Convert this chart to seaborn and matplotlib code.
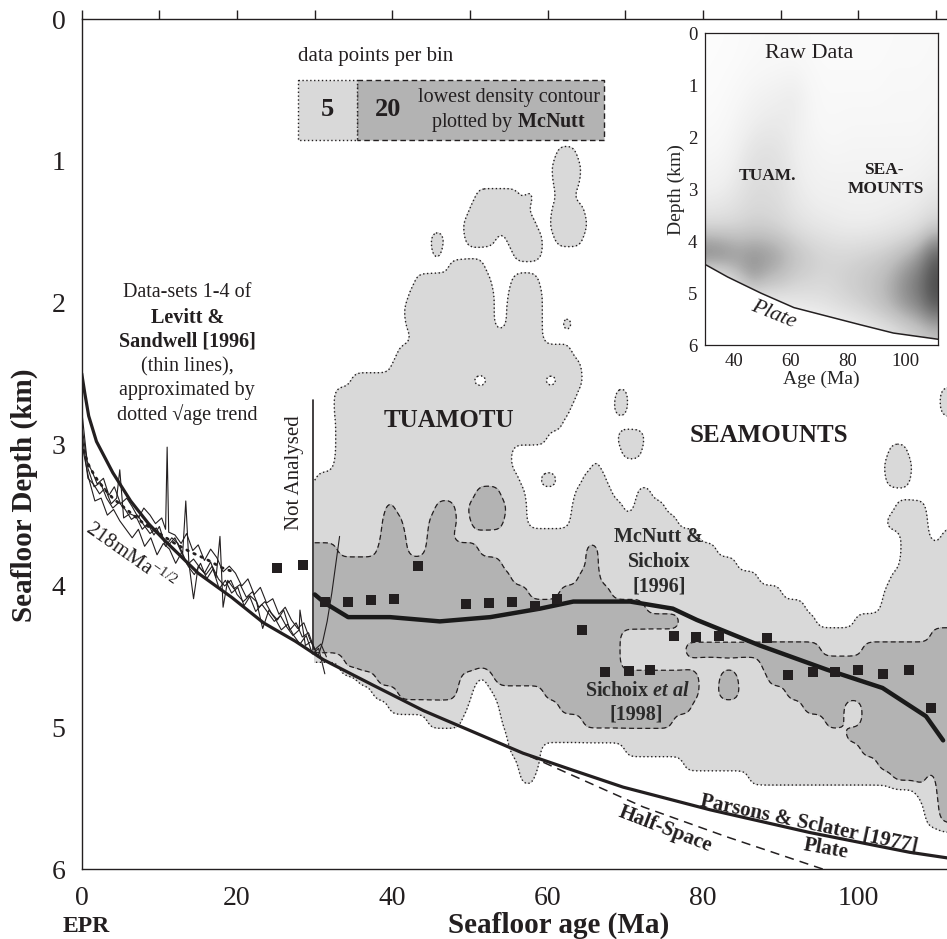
import numpy as np
import pandas as pd
import seaborn as sns
import matplotlib.pyplot as plt
from matplotlib.patches import Rectangle

OUT_FIG = "out.png"

# ---------------- values (age in Ma, depth in km) ----------------
# Parsons & Sclater [1977] plate curve
plate_age = [0, 0.4, 0.9, 1.9, 4.0, 6.3, 8.6, 10.7, 15.0, 19.3, 23.4, 27.5, 31.1, 37.5,
             44.0, 50.4, 56.8, 63.2, 69.7, 80.9, 93.7, 106.6, 111.5]
plate_depth = [2.50, 2.64, 2.80, 2.98, 3.20, 3.40, 3.56, 3.68, 3.91, 4.08, 4.26, 4.39, 4.52, 4.70,
               4.88, 5.03, 5.18, 5.30, 5.42, 5.58, 5.74, 5.88, 5.92]

# half-space branch (dashed)
halfspace_age = [50.4, 56.8, 62.9, 72.3, 83.0, 95.5]
halfspace_depth = [5.03, 5.18, 5.33, 5.56, 5.77, 6.00]

# McNutt & Sichoix [1996] thick curve
mcnutt_age = [30.0, 31.3, 34.3, 39.7, 46.1, 52.6, 59.0, 63.3, 70.6, 76.1, 79.2, 87.3,
              95.9, 103.1, 108.7, 110.9]
mcnutt_depth = [4.06, 4.12, 4.22, 4.22, 4.25, 4.22, 4.16, 4.11, 4.11, 4.16, 4.24, 4.42,
                4.59, 4.72, 4.92, 5.09]

# Sichoix et al [1998] squares
sichoix_age = [25.2, 28.5, 31.3, 34.3, 37.2, 40.2, 43.3, 49.5, 52.5, 55.4, 58.4, 61.2, 64.4,
               67.4, 70.4, 73.1, 76.3, 79.1, 82.1, 88.2, 90.9, 94.2, 97.0, 99.9, 103.2, 106.5, 109.3]
sichoix_depth = [3.87, 3.85, 4.11, 4.11, 4.10, 4.09, 3.86, 4.13, 4.12, 4.11, 4.14, 4.09, 4.31,
                 4.61, 4.60, 4.59, 4.35, 4.36, 4.35, 4.37, 4.63, 4.61, 4.61, 4.59, 4.62, 4.59, 4.86]

# Levitt & Sandwell [1996] data-sets 1-4 (thin lines)
ls1_age = [0.1, 0.7, 1.4, 2.0, 2.8, 3.5, 4.2, 5.0, 5.8, 6.5, 7.3, 8.0, 8.8, 9.5, 10.3, 10.8, 11.0,
           11.2, 12.0, 12.8, 13.5, 14.3, 15.0, 15.8, 16.6, 17.4, 18.2, 19.0, 19.8, 20.6, 21.4,
           22.2, 23.0, 23.8, 24.6, 25.4, 26.2, 27.0, 27.8, 28.6, 29.4, 30.0]
ls1_depth = [2.81, 3.12, 3.20, 3.28, 3.24, 3.36, 3.30, 3.42, 3.38, 3.44, 3.52, 3.45, 3.50, 3.56,
             3.52, 3.60, 3.02, 3.62, 3.64, 3.70, 3.63, 3.75, 3.71, 3.82, 3.74, 3.80, 3.90, 3.86,
             3.91, 4.00, 3.95, 4.06, 4.01, 4.12, 4.09, 4.20, 4.15, 4.24, 4.30, 4.26, 4.38, 4.45]
ls2_age = [0.1, 0.8, 1.5, 2.3, 3.0, 3.8, 4.5, 4.9, 5.4, 6.2, 7.0, 7.8, 8.5, 9.3, 10.0, 10.8,
           11.6, 12.4, 13.0, 13.4, 13.8, 14.4, 15.0, 15.8, 16.6, 17.3, 17.8, 18.2, 18.8, 19.6,
           20.4, 21.2, 22.0, 22.8, 23.6, 24.4, 25.2, 26.0, 26.8, 27.6, 28.4, 29.2, 30.0, 30.8, 31.5]
ls2_depth = [2.95, 3.24, 3.28, 3.35, 3.31, 3.42, 3.38, 3.18, 3.52, 3.49, 3.51, 3.60, 3.56, 3.64,
             3.58, 3.72, 3.66, 3.70, 3.77, 3.40, 3.84, 4.09, 3.86, 3.91, 3.83, 3.94, 3.65, 4.15,
             3.96, 4.02, 3.99, 4.08, 4.04, 4.15, 4.11, 4.19, 4.24, 4.17, 4.31, 4.26, 4.36, 4.33,
             4.45, 4.41, 4.50]
ls3_age = [0.2, 0.9, 1.7, 2.5, 3.3, 4.1, 4.9, 5.7, 6.5, 7.3, 8.1, 8.9, 9.7, 10.5, 11.3, 12.1,
           12.9, 13.7, 14.5, 15.3, 16.1, 16.9, 17.7, 18.5, 19.3, 20.1, 20.9, 21.7, 22.5, 23.3,
           24.1, 24.9, 25.7, 26.5, 27.3, 28.1, 28.9, 29.7, 30.5, 31.3]
ls3_depth = [3.05, 3.24, 3.40, 3.38, 3.50, 3.46, 3.54, 3.60, 3.66, 3.60, 3.72, 3.66, 3.78, 3.70,
             3.74, 3.84, 3.76, 3.86, 3.92, 3.84, 3.95, 3.88, 4.02, 3.96, 4.05, 4.01, 4.14, 4.07,
             4.11, 4.30, 4.17, 4.23, 4.31, 4.27, 4.35, 4.41, 4.35, 4.48, 4.44, 4.62]
ls4_age = [0.1, 0.8, 1.6, 2.4, 3.2, 4.0, 4.8, 5.6, 6.4, 7.2, 8.0, 8.8, 9.6, 10.4, 11.2, 12.0,
           12.8, 13.6, 14.4, 15.2, 16.0, 16.8, 17.6, 18.4, 19.2, 20.0, 20.8, 21.6, 22.4, 23.2,
           24.0, 24.8, 25.6, 26.4, 27.2, 28.0, 28.1, 28.8, 29.6, 30.4, 31.0, 31.6, 32.2, 32.7, 33.2]
ls4_depth = [2.90, 3.17, 3.30, 3.27, 3.38, 3.45, 3.41, 3.46, 3.53, 3.50, 3.57, 3.63, 3.59, 3.67,
             3.71, 3.66, 3.76, 3.85, 3.81, 3.87, 3.92, 3.86, 3.95, 4.00, 3.96, 4.06, 4.11, 4.07,
             4.18, 4.13, 4.19, 4.25, 4.21, 4.29, 4.35, 4.31, 4.17, 4.42, 4.39, 4.50, 4.40, 4.25,
             4.05, 3.85, 3.65]

# dotted sqrt(age) trend
trend_age = [0.2, 1, 2, 3, 4, 6, 8, 10, 12, 14, 16, 18, 19.5]
trend_depth = [3.04, 3.16, 3.25, 3.32, 3.38, 3.47, 3.56, 3.63, 3.70, 3.76, 3.81, 3.87, 3.90]

# binned data density: age spans per 0.1 km depth band with >=5 points (light) / >=20 (dark)
light_runs = {
    0.95: [(61.2, 63.8)],
    1.05: [(60.6, 64.3)],
    1.15: [(60.7, 64.1)],
    1.25: [(50.8, 56.2), (57.2, 58.3), (61.2, 63.3)],
    1.35: [(50.0, 57.5), (60.5, 64.6)],
    1.45: [(49.2, 58.5), (60.3, 65.0)],
    1.55: [(44.9, 46.7), (49.3, 53.2), (54.8, 59.4), (61.0, 64.5)],
    1.65: [(45.2, 46.4), (55.5, 59.2)],
    1.75: [(47.3, 51.8)],
    1.85: [(43.0, 52.6), (55.4, 58.8)],
    1.95: [(42.2, 53.0), (54.9, 59.3)],
    2.05: [(41.6, 53.0), (54.8, 59.4)],
    2.15: [(41.8, 53.0), (54.8, 59.4), (61.8, 63.2)],
    2.25: [(42.6, 59.3)],
    2.35: [(40.8, 63.0)],
    2.45: [(40.0, 64.3)],
    2.55: [(34.8, 50.0), (52.6, 59.4), (61.6, 64.5)],
    2.65: [(32.6, 63.7), (68.7, 70.2), (110.6, 112)],
    2.75: [(32.5, 62.9), (68.6, 70.3), (110.6, 112)],
    2.85: [(32.7, 61.8)],
    2.95: [(32.8, 59.8), (69.0, 72.4)],
    3.05: [(32.7, 55.3), (69.5, 72.0), (104.0, 106.3)],
    3.15: [(32.6, 55.2), (65.7, 66.8), (103.4, 106.9)],
    3.25: [(30.2, 56.2), (59.0, 61.2), (64.5, 67.5), (103.6, 106.7)],
    3.35: [(30, 57.0), (63.6, 68.3), (71.6, 73.2)],
    3.45: [(30, 57.2), (63.2, 69.6), (71.2, 75.0), (104.8, 108.8)],
    3.55: [(30, 57.3), (63.0, 76.7), (103.6, 108.9)],
    3.65: [(30, 79.2), (105.5, 109.0), (110.7, 112)],
    3.75: [(30, 81.8), (105.6, 112)],
    3.85: [(30, 84.2), (105.4, 112)],
    3.95: [(30, 87.0), (104.2, 112)],
    4.05: [(30, 90.0), (103.3, 112)],
    4.15: [(30, 93.0), (103.0, 112)],
    4.25: [(30, 94.5), (99.5, 112)],
    4.35: [(30, 112)],
    4.45: [(30, 112)],
    4.55: [(33.8, 112)],
    4.65: [(35.5, 50.8), (52.2, 112)],
    4.75: [(37.5, 50.4), (53.2, 112)],
    4.85: [(39.5, 49.6), (53.8, 112)],
    4.95: [(44.5, 48.8), (54.2, 112)],
    5.05: [(54.7, 112)],
    5.15: [(55.2, 59.0), (69.9, 112)],
    5.25: [(56.2, 58.8), (77.5, 112)],
    5.35: [(56.6, 58.3), (86.0, 112)],
    5.45: [(107.6, 112)],
    5.55: [(108.4, 112)],
    5.65: [(108.8, 112)],
}
dark_runs = {
    3.35: [(50.8, 53.8)],
    3.45: [(39.2, 40.2), (45.5, 48.0), (49.8, 54.7)],
    3.55: [(38.8, 41.2), (44.8, 48.2), (50.2, 54.3)],
    3.65: [(38.6, 41.7), (44.5, 47.6)],
    3.75: [(30, 32.8), (38.2, 41.9), (44.3, 51.0), (65.0, 66.5)],
    3.85: [(30, 54.0), (65.0, 66.5)],
    3.95: [(30, 55.3), (64.0, 66.8)],
    4.05: [(30, 57.5), (61.5, 68.0)],
    4.15: [(30, 72.5)],
    4.25: [(30, 77.0)],
    4.35: [(30, 69.3), (109.3, 112)],
    4.45: [(30, 69.3), (77.5, 95.0), (100.5, 112)],
    4.55: [(33.5, 69.3), (87.5, 112)],
    4.65: [(38.0, 48.6), (53.0, 79.5), (82.2, 84.5), (88.3, 112)],
    4.75: [(40.8, 48.4), (59.5, 79.5), (82.0, 84.6), (90.8, 112)],
    4.85: [(61.5, 78.5), (93.0, 98.0), (100.6, 112)],
    4.95: [(64.5, 76.0), (95.8, 98.0), (100.6, 112)],
    5.05: [(98.3, 112)],
    5.15: [(100.4, 112)],
    5.25: [(102.5, 112)],
    5.35: [(104.3, 108.8), (110.0, 112)],
    5.45: [(110.2, 112)],
    5.55: [(110.3, 112)],
    5.65: [(110.5, 112)],
}

# inset: raw data shading (rows = 0.5 km bands from 0 km, columns = 17 age bins 30-112 Ma)
raw_density = [
    [0.03, 0.03, 0.04, 0.05, 0.06, 0.06, 0.06, 0.05, 0.04, 0.04, 0.04, 0.04, 0.04, 0.05, 0.05, 0.05, 0.06],
    [0.03, 0.04, 0.05, 0.07, 0.08, 0.09, 0.10, 0.07, 0.05, 0.05, 0.05, 0.05, 0.05, 0.06, 0.06, 0.06, 0.07],
    [0.04, 0.05, 0.08, 0.12, 0.14, 0.16, 0.18, 0.10, 0.06, 0.06, 0.06, 0.06, 0.06, 0.07, 0.07, 0.07, 0.08],
    [0.05, 0.07, 0.12, 0.16, 0.18, 0.18, 0.16, 0.10, 0.07, 0.07, 0.08, 0.08, 0.08, 0.08, 0.08, 0.08, 0.10],
    [0.08, 0.10, 0.16, 0.22, 0.24, 0.22, 0.16, 0.12, 0.10, 0.09, 0.10, 0.10, 0.10, 0.10, 0.10, 0.10, 0.12],
    [0.12, 0.14, 0.20, 0.26, 0.26, 0.24, 0.18, 0.14, 0.12, 0.12, 0.12, 0.12, 0.12, 0.12, 0.12, 0.13, 0.16],
    [0.18, 0.20, 0.24, 0.28, 0.28, 0.26, 0.20, 0.17, 0.15, 0.15, 0.14, 0.14, 0.14, 0.15, 0.16, 0.18, 0.22],
    [0.30, 0.30, 0.32, 0.34, 0.33, 0.30, 0.26, 0.22, 0.20, 0.18, 0.17, 0.17, 0.18, 0.20, 0.22, 0.26, 0.35],
    [0.72, 0.66, 0.58, 0.60, 0.58, 0.52, 0.42, 0.36, 0.32, 0.30, 0.30, 0.32, 0.34, 0.38, 0.45, 0.55, 0.80],
    [0.08, 0.20, 0.40, 0.55, 0.45, 0.40, 0.34, 0.32, 0.30, 0.32, 0.35, 0.38, 0.42, 0.50, 0.62, 0.72, 0.90],
    [0.00, 0.00, 0.02, 0.06, 0.12, 0.16, 0.18, 0.20, 0.22, 0.26, 0.30, 0.34, 0.40, 0.48, 0.58, 0.66, 0.85],
    [0.00, 0.00, 0.00, 0.00, 0.00, 0.00, 0.02, 0.04, 0.06, 0.08, 0.10, 0.14, 0.18, 0.22, 0.28, 0.34, 0.40],
]
inset_plate_age = [30.4, 37.9, 49.5, 61.1, 84.3, 95.9, 111.6]
inset_plate_depth = [4.46, 4.69, 5.00, 5.28, 5.61, 5.77, 5.89]

LIGHT = "#d9d9d9"
DARK = "#b3b3b3"
INK = "#231f20"
DOTS = (0, (1, 1.8))
DASH = (0, (4, 2.5))

sns.set_style("white")
plt.rcParams["font.family"] = ["Liberation Serif", "DejaVu Serif"]
plt.rcParams["mathtext.fontset"] = "custom"
plt.rcParams["mathtext.rm"] = "Liberation Serif"
plt.rcParams["mathtext.it"] = "Liberation Serif:italic:bold"
plt.rcParams["mathtext.bf"] = "Liberation Serif:bold"
plt.rcParams["mathtext.default"] = "regular"
plt.rcParams["text.color"] = INK


def smooth(z, sx, sy):
    for axis, s in ((1, sx), (0, sy)):
        r = int(3 * s) + 1
        k = np.exp(-0.5 * (np.arange(-r, r + 1) / s) ** 2)
        k /= k.sum()
        pad = [(0, 0), (0, 0)]
        pad[axis] = (r, r)
        zp = np.pad(z, pad, mode="edge")
        z = np.apply_along_axis(lambda v: np.convolve(v, k, mode="valid"), axis, zp)
    return z


# density field from the binned spans
grid_age = np.linspace(30, 112, 411)
grid_depth = np.linspace(0.8, 6.0, 521)
code = np.zeros((grid_depth.size, grid_age.size))
for level, runs in ((1, light_runs), (2, dark_runs)):
    for d, spans in runs.items():
        rows = np.abs(grid_depth - d) <= 0.0501
        for a0, a1 in spans:
            cols = (grid_age >= a0) & (grid_age <= a1)
            sub = np.ix_(rows, cols)
            code[sub] = np.maximum(code[sub], level)
field = smooth(code, 3.2, 5.0)

fig = plt.figure(figsize=(9.47, 9.39), dpi=100)
ax = fig.add_axes([81.7 / 947, 1 - 869.3 / 939, 1 - 81.7 / 947, 850 / 939])

ax.contourf(grid_age, grid_depth, field, levels=[0.5, 1.5, 3], colors=[LIGHT, DARK], zorder=1)
c5 = ax.contour(grid_age, grid_depth, field, levels=[0.5], colors=INK, linewidths=1.0, zorder=2)
c5.set_linestyle(DOTS)
c20 = ax.contour(grid_age, grid_depth, field, levels=[1.5], colors=INK, linewidths=0.9, zorder=2)
c20.set_linestyle(DASH)

# Levitt & Sandwell thin lines + dotted trend
ls = pd.concat([
    pd.DataFrame({"age": a, "depth": d, "set": i})
    for i, (a, d) in enumerate([(ls1_age, ls1_depth), (ls2_age, ls2_depth),
                                (ls3_age, ls3_depth), (ls4_age, ls4_depth)])
])
sns.lineplot(data=ls, x="age", y="depth", units="set", estimator=None, sort=False,
             color=INK, lw=0.8, ax=ax, zorder=4)
sns.lineplot(x=trend_age, y=trend_depth, sort=False, estimator=None, color=INK,
             lw=2.0, ls=(0, (0.6, 2.2)), dash_capstyle="round", ax=ax, zorder=5)

# model curves
sns.lineplot(x=plate_age, y=plate_depth, sort=False, estimator=None, color=INK, lw=2.3, ax=ax, zorder=5)
sns.lineplot(x=halfspace_age, y=halfspace_depth, sort=False, estimator=None, color=INK,
             lw=1.1, ls=(0, (6, 4)), ax=ax, zorder=5)
sns.lineplot(x=mcnutt_age, y=mcnutt_depth, sort=False, estimator=None, color="#1a1a1a",
             lw=3.2, ax=ax, zorder=6)
sns.scatterplot(x=sichoix_age, y=sichoix_depth, marker="s", s=58, color=INK, linewidth=0,
                ax=ax, zorder=7)

# not-analysed boundary
ax.plot([29.8, 29.8], [2.69, 4.45], color=INK, lw=1.2, zorder=5)

ax.set_xlim(0, 111.4)
ax.set_ylim(6, 0)
ax.set_xlabel("")
ax.set_ylabel("")
ax.set_xticks(np.arange(0, 111, 20))
ax.set_xticks(np.arange(10, 111, 20), minor=True)
ax.set_yticks(np.arange(0, 7, 1))
ax.set_yticks(np.arange(0.5, 6, 1), minor=True)
ax.tick_params(which="both", direction="out", length=6.8, width=1.0, color=INK,
               top=True, right=False, labelsize=20, pad=5, labelcolor=INK)
ax.spines["right"].set_visible(False)
for s in ("left", "bottom", "top"):
    ax.spines[s].set_linewidth(1.0)
    ax.spines[s].set_color(INK)

# legend of the contour levels
ax.add_patch(Rectangle((35.5, 0.428), 31.8, 0.424, fc=DARK, ec=INK, lw=1.0, ls=DASH, zorder=3))
ax.add_patch(Rectangle((27.9, 0.428), 7.6, 0.424, fc=LIGHT, ec=INK, lw=1.0, ls=DOTS, zorder=3))
ax.text(37.8, 0.266, "data points per bin", fontsize=15, ha="center", va="center")
ax.text(31.7, 0.64, "5", fontsize=19, fontweight="bold", ha="center", va="center", zorder=4)
ax.text(39.5, 0.64, "20", fontsize=19, fontweight="bold", ha="center", va="center", zorder=4)
ax.text(54.95, 0.555, "lowest density contour", fontsize=14.5, ha="center", va="center", zorder=4)
ax.text(54.95, 0.725, r"plotted by $\mathbf{McNutt}$", fontsize=14.5, ha="center", va="center", zorder=4)

# left annotation block
block = [("Data-sets 1-4 of", "normal", 1.93), ("Levitt &", "bold", 2.11),
         ("Sandwell [1996]", "bold", 2.275), ("(thin lines),", "normal", 2.45),
         ("approximated by", "normal", 2.62), ("dotted \u221aage trend", "normal", 2.79)]
for txt, w, y in block:
    ax.text(13.6, y, txt, fontsize=14.5, fontweight=w, ha="center", va="center")

ax.text(47.3, 2.835, "TUAMOTU", fontsize=18, fontweight="bold", ha="center", va="center", zorder=8)
ax.text(88.5, 2.94, "SEAMOUNTS", fontsize=18, fontweight="bold", ha="center", va="center", zorder=8)
for txt, y in (("McNutt &", 3.654), ("Sichoix", 3.828), ("[1996]", 4.004)):
    ax.text(74.3, y, txt, fontsize=14.5, fontweight="bold", color="#2b2b2b",
            ha="center", va="center", zorder=8)
ax.text(71.6, 4.738, r"Sichoix $\mathit{et\ al}$", fontsize=14.5, fontweight="bold",
        color="#2b2b2b", ha="center", va="center", zorder=8)
ax.text(71.4, 4.91, "[1998]", fontsize=14.5, fontweight="bold", color="#2b2b2b",
        ha="center", va="center", zorder=8)
ax.text(27.45, 3.198, "Not Analysed", fontsize=15, rotation=90, ha="center", va="center")
ax.text(6.2, 3.79, r"218mMa$^{-1/2}$", fontsize=15, rotation=-35, rotation_mode="anchor",
        ha="center", va="center")
ax.text(93.6, 5.68, "Parsons & Sclater [1977]", fontsize=15, fontweight="bold", rotation=-12,
        rotation_mode="anchor", ha="center", va="center")
ax.text(75.1, 5.72, "Half-Space", fontsize=15, fontweight="bold", rotation=-21,
        rotation_mode="anchor", ha="center", va="center")
ax.text(95.8, 5.86, "Plate", fontsize=15, fontweight="bold", rotation=-10,
        rotation_mode="anchor", ha="center", va="center")

fig.text(559 / 947, 1 - 925 / 939, "Seafloor age (Ma)", fontsize=21, fontweight="bold",
         ha="center", va="center")
fig.text(24 / 947, 1 - 495 / 939, "Seafloor Depth (km)", fontsize=21, fontweight="bold",
         rotation=90, ha="center", va="center")
fig.text(86.7 / 947, 1 - 926 / 939, "EPR", fontsize=17, fontweight="bold", ha="center", va="center")

# ---------------- inset: raw data ----------------
ax_in = fig.add_axes([705 / 947, 1 - 345 / 939, 233.3 / 947, 311.7 / 939])
ax_in.imshow(np.array(raw_density), extent=(30, 112, 6, 0), cmap="Greys", vmin=0, vmax=1.15,
             interpolation="bicubic", aspect="auto", zorder=0)
ax_in.fill_between(inset_plate_age, inset_plate_depth, 6.2, color="white", zorder=1)
sns.lineplot(x=inset_plate_age, y=inset_plate_depth, sort=False, estimator=None,
             color=INK, lw=1.1, ax=ax_in, zorder=2)
ax_in.set_xlim(30, 111.6)
ax_in.set_ylim(6, 0)
ax_in.set_xticks([40, 60, 80, 100])
ax_in.set_xticks([50, 70, 90, 110], minor=True)
ax_in.set_yticks(np.arange(0, 7, 1))
ax_in.set_yticks(np.arange(0.5, 6, 1), minor=True)
ax_in.tick_params(which="both", direction="out", length=3.5, width=0.8, color=INK,
                  labelsize=13.5, pad=2, labelcolor=INK)
for s in ax_in.spines.values():
    s.set_linewidth(0.9)
    s.set_color(INK)
ax_in.set_xlabel("Age (Ma)", fontsize=14, labelpad=1)
ax_in.set_ylabel("Depth (km)", fontsize=14, labelpad=2)
ax_in.text(66.3, 0.39, "Raw Data", fontsize=16, ha="center", va="center")
ax_in.text(52.0, 2.74, "TUAM.", fontsize=12.5, fontweight="bold", ha="center", va="center")
ax_in.text(92.4, 2.63, "SEA-", fontsize=12.5, fontweight="bold", ha="center", va="center")
ax_in.text(93.3, 3.00, "MOUNTS", fontsize=12.5, fontweight="bold", ha="center", va="center")
ax_in.text(54.1, 5.42, "Plate", fontsize=16, style="italic", rotation=-22,
           rotation_mode="anchor", ha="center", va="center")

fig.savefig(OUT_FIG, dpi=100)
